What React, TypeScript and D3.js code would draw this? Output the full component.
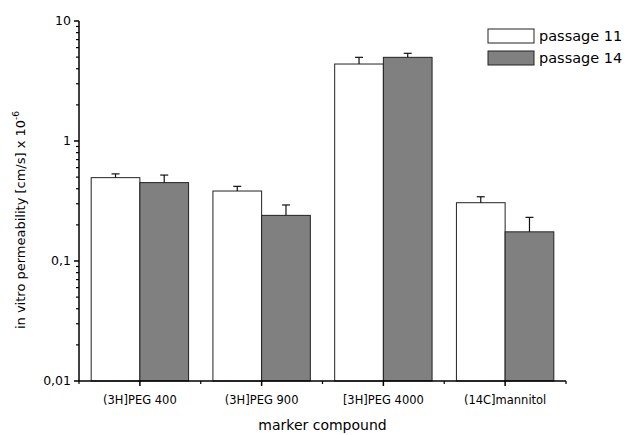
import React, { useRef, useEffect } from 'react';
import * as d3 from "d3";

const width = 630;
const height = 435;
const margin = ({top: 21, right: 64, bottom: 54, left: 79});

const categories = ["(3H]PEG 400", "(3H]PEG 900", "[3H]PEG 4000", "(14C]mannitol"];
const seriesNames = ["passage 11", "passage 14"];
const seriesColors = ["#ffffff", "#808080"];
const passage11 = [0.495, 0.383, 4.38, 0.306];
const passage11Err = [0.037, 0.036, 0.6, 0.037];
const passage14 = [0.45, 0.24, 4.98, 0.175];
const passage14Err = [0.07, 0.053, 0.4, 0.056];
const yTicks = [0.01, 0.1, 1, 10];
const yTickLabels = ["0,01", "0,1", "1", "10"];

const font = "'DejaVu Sans', Verdana, sans-serif";

export default function App() {
    const d3Container = useRef<SVGSVGElement>(null);

    useEffect(() => {
        if (!d3Container.current) return;
        const svg = d3.select(d3Container.current);
        svg.selectAll("*").remove();

        const rows = categories.map((c, i) => ({
            category: c,
            values: [
                {key: seriesNames[0], value: passage11[i], err: passage11Err[i], color: seriesColors[0]},
                {key: seriesNames[1], value: passage14[i], err: passage14Err[i], color: seriesColors[1]},
            ]
        }));

        const x0 = d3.scaleBand()
            .domain(categories)
            .range([margin.left, width - margin.right]);

        const x1 = d3.scaleBand()
            .domain(seriesNames)
            .range([0, x0.bandwidth()])
            .paddingOuter(0.25);

        const y = d3.scaleLog()
            .domain([0.01, 10])
            .range([height - margin.bottom, margin.top]);

        // bars
        const group = svg.append("g")
            .selectAll("g")
            .data(rows)
            .join("g")
            .attr("transform", d => `translate(${x0(d.category)},0)`);

        group.selectAll("rect")
            .data(d => d.values)
            .join("rect")
            .attr("x", d => x1(d.key)!)
            .attr("y", d => y(d.value))
            .attr("width", x1.bandwidth())
            .attr("height", d => y(0.01) - y(d.value))
            .attr("fill", d => d.color)
            .attr("stroke", "#222")
            .attr("stroke-width", 1);

        // error bars
        const err = group.selectAll("g.err")
            .data(d => d.values)
            .join("g")
            .attr("class", "err")
            .attr("stroke", "#111")
            .attr("stroke-width", 1.2);
        err.append("line")
            .attr("x1", d => x1(d.key)! + x1.bandwidth() / 2)
            .attr("x2", d => x1(d.key)! + x1.bandwidth() / 2)
            .attr("y1", d => y(d.value))
            .attr("y2", d => y(d.value + d.err));
        err.append("line")
            .attr("x1", d => x1(d.key)! + x1.bandwidth() / 2 - 4)
            .attr("x2", d => x1(d.key)! + x1.bandwidth() / 2 + 4)
            .attr("y1", d => y(d.value + d.err))
            .attr("y2", d => y(d.value + d.err));

        // y axis
        const minor: number[] = [];
        for (let e = -2; e < 1; e++) {
            for (let k = 2; k <= 9; k++) minor.push(k * Math.pow(10, e));
        }
        const yAxis = svg.append("g")
            .attr("transform", `translate(${margin.left},0)`);
        yAxis.append("line")
            .attr("y1", y(0.01)).attr("y2", y(10))
            .attr("stroke", "#000").attr("stroke-width", 1.5);
        yAxis.selectAll("line.minor")
            .data(minor)
            .join("line")
            .attr("class", "minor")
            .attr("x1", -3).attr("x2", 0)
            .attr("y1", d => y(d)).attr("y2", d => y(d))
            .attr("stroke", "#000").attr("stroke-width", 1.2);
        yAxis.selectAll("line.major")
            .data(yTicks)
            .join("line")
            .attr("class", "major")
            .attr("x1", -5).attr("x2", 0)
            .attr("y1", d => y(d)).attr("y2", d => y(d))
            .attr("stroke", "#000").attr("stroke-width", 1.5);
        yAxis.selectAll("text")
            .data(yTicks)
            .join("text")
            .attr("x", -8)
            .attr("y", d => y(d))
            .attr("dy", "0.35em")
            .attr("text-anchor", "end")
            .attr("font-family", font)
            .attr("font-size", 12.5)
            .text((d, i) => yTickLabels[i]);

        // x axis
        const xAxis = svg.append("g")
            .attr("transform", `translate(0,${y(0.01)})`);
        xAxis.append("line")
            .attr("x1", margin.left).attr("x2", width - margin.right)
            .attr("stroke", "#000").attr("stroke-width", 1.5);
        const bounds = categories.map(c => x0(c)!).concat([x0(categories[categories.length - 1])! + x0.bandwidth()]);
        xAxis.selectAll("line.minor")
            .data(bounds)
            .join("line")
            .attr("class", "minor")
            .attr("x1", d => d).attr("x2", d => d)
            .attr("y1", 0).attr("y2", 3)
            .attr("stroke", "#000").attr("stroke-width", 1.2);
        xAxis.selectAll("line.major")
            .data(categories)
            .join("line")
            .attr("class", "major")
            .attr("x1", d => x0(d)! + x0.bandwidth() / 2)
            .attr("x2", d => x0(d)! + x0.bandwidth() / 2)
            .attr("y1", 0).attr("y2", 5)
            .attr("stroke", "#000").attr("stroke-width", 1.5);
        xAxis.selectAll("text")
            .data(categories)
            .join("text")
            .attr("x", d => x0(d)! + x0.bandwidth() / 2)
            .attr("y", 23)
            .attr("text-anchor", "middle")
            .attr("font-family", font)
            .attr("font-size", 11.5)
            .text(d => d);

        // axis titles
        svg.append("text")
            .attr("x", (margin.left + width - margin.right) / 2)
            .attr("y", 430)
            .attr("text-anchor", "middle")
            .attr("font-family", font)
            .attr("font-size", 14)
            .text("marker compound");

        const yTitle = svg.append("text")
            .attr("transform", `translate(25,220) rotate(-90)`)
            .attr("text-anchor", "middle")
            .attr("font-family", font)
            .attr("font-size", 13);
        yTitle.append("tspan").text("in vitro permeability [cm/s] x 10");
        yTitle.append("tspan").attr("dy", -6).attr("font-size", 9).text("-6");

        // legend
        const legend = svg.append("g")
            .selectAll("g")
            .data(seriesNames)
            .join("g")
            .attr("transform", (d, i) => `translate(488,${29 + i * 22})`);
        legend.append("rect")
            .attr("width", 46).attr("height", 14)
            .attr("fill", (d, i) => seriesColors[i])
            .attr("stroke", "#222").attr("stroke-width", 1);
        legend.append("text")
            .attr("x", 51).attr("y", 7)
            .attr("dy", "0.35em")
            .attr("font-family", font)
            .attr("font-size", 14.5)
            .text(d => d);
    }, []);

    return (
        <svg ref={d3Container} width={width} height={height}
            style={{position: "absolute", left: 0, top: 0, background: "#fff"}} />
    );
}
